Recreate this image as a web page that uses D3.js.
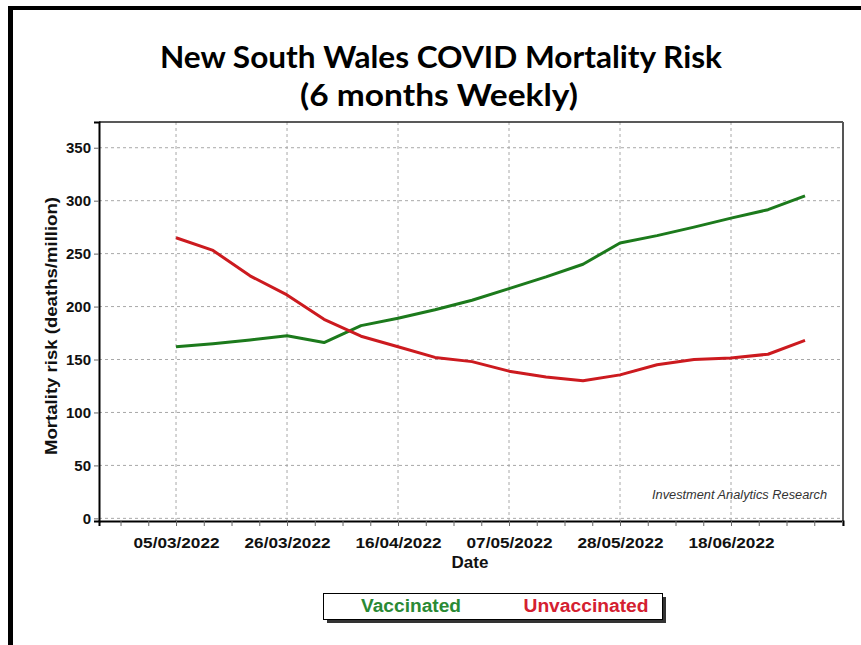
<!DOCTYPE html>
<html><head><meta charset="utf-8">
<script src="https://cdn.jsdelivr.net/npm/d3@7"></script>
<style>html,body{margin:0;padding:0;background:#fff;}svg{display:block;}</style>
</head><body>
<svg id="chart" width="861" height="645"></svg>
<script>
const weeks = ["05/03/2022","12/03/2022","19/03/2022","26/03/2022","02/04/2022","09/04/2022","16/04/2022","23/04/2022","30/04/2022","07/05/2022","14/05/2022","21/05/2022","28/05/2022","04/06/2022","11/06/2022","18/06/2022","25/06/2022","02/07/2022"];
const vaccinated = [162,165,168.5,172.5,166,182,189,197,206,217,228,240,260,267,275,283.5,291.5,304.5];
const unvaccinated = [265,253,229,211,188,172,162,152,148,139,133.5,130,135.5,145,150,151.5,155,168];
const xTickLabels = ["05/03/2022","26/03/2022","16/04/2022","07/05/2022","28/05/2022","18/06/2022","09/07/2022"];
const yTicks = [0,50,100,150,200,250,300,350];
const seriesNames = ["Vaccinated","Unvaccinated"];
const seriesColors = ["#1c7a1c","#cc1a1f"];
const legendColors = ["#2a8a34","#d42030"];

const parse = d3.utcParse("%d/%m/%Y");
const svg = d3.select("#chart");

// outer frame
svg.append("rect").attr("x",8).attr("y",6).attr("width",853).attr("height",4).attr("fill","#000");
svg.append("rect").attr("x",8).attr("y",6).attr("width",5).attr("height",639).attr("fill","#000");

const L=99, R=843, T=122, B=521;
const x = d3.scaleUtc()
  .domain([new Date(Date.UTC(2022,1,18,10,17)), new Date(Date.UTC(2022,6,9,4,30))])
  .range([L,R]);
const y = d3.scaleLinear().domain([-2.5,374.3]).range([B,T]);

// title
svg.append("text").attr("x",441).attr("y",68).attr("text-anchor","middle")
  .attr("font-family","Lato,sans-serif").attr("font-weight",700).attr("font-size",30)
  .attr("textLength",562).attr("lengthAdjust","spacingAndGlyphs").attr("fill","#000")
  .text("New South Wales COVID Mortality Risk");
svg.append("text").attr("x",439).attr("y",106).attr("text-anchor","middle")
  .attr("font-family","Lato,sans-serif").attr("font-weight",700).attr("font-size",30)
  .attr("textLength",278).attr("lengthAdjust","spacingAndGlyphs").attr("fill","#000")
  .text("(6 months Weekly)");

// grid
const grid = svg.append("g");
yTicks.forEach(v=>{
  grid.append("line").attr("x1",L).attr("x2",R).attr("y1",y(v)).attr("y2",y(v))
    .attr("stroke","#a8a8a8").attr("stroke-width",1).attr("stroke-dasharray","3,3");
});
const majorDates = xTickLabels.map(parse);
majorDates.forEach(d=>{
  if (x(d) < R-3) grid.append("line").attr("x1",x(d)).attr("x2",x(d)).attr("y1",T).attr("y2",B)
    .attr("stroke","#a8a8a8").attr("stroke-width",1).attr("stroke-dasharray","3,3");
});

// watermark
svg.append("text").attr("x",827).attr("y",499).attr("text-anchor","end")
  .attr("font-family","'Liberation Sans',Arial,sans-serif").attr("font-style","italic").attr("font-size",12.5)
  .attr("textLength",175).attr("lengthAdjust","spacingAndGlyphs")
  .attr("fill","#333").text("Investment Analytics Research");

// lines
const line = d3.line().x((d,i)=>x(parse(weeks[i]))).y(d=>y(d));
[vaccinated, unvaccinated].forEach((s,k)=>{
  svg.append("path").datum(s).attr("d",line).attr("fill","none")
    .attr("stroke",seriesColors[k]).attr("stroke-width",3).attr("stroke-linejoin","round");
});

// plot frame
svg.append("line").attr("x1",L).attr("x2",R).attr("y1",T).attr("y2",T).attr("stroke","#222").attr("stroke-width",1.5);
svg.append("line").attr("x1",R).attr("x2",R).attr("y1",T).attr("y2",B).attr("stroke","#555").attr("stroke-width",2);

// axes
const minor = [];
for (let t = +parse("05/03/2022") - 4*5.25*864e5; t <= +x.domain()[1]; t += 5.25*864e5) {
  if (t >= +x.domain()[0]) minor.push(new Date(t));
}
const xAxis = d3.axisBottom(x).tickValues(minor).tickSize(5).tickFormat("");
const gx = svg.append("g").attr("transform",`translate(0,${B})`).call(xAxis);
gx.select(".domain").attr("stroke","#000").attr("stroke-width",2);
gx.selectAll(".tick line").attr("stroke","#666");
const xLab = d3.axisBottom(x).tickValues(majorDates.filter(d=>x(d)<R-20)).tickSize(0).tickPadding(16)
  .tickFormat(d3.utcFormat("%d/%m/%Y"));
const gx2 = svg.append("g").attr("transform",`translate(0,${B})`).call(xLab);
gx2.select(".domain").remove();
gx2.selectAll("text").attr("font-family","'Liberation Sans',Arial,sans-serif").attr("font-weight","bold")
  .attr("font-size",15).attr("fill","#111").attr("textLength",86).attr("lengthAdjust","spacingAndGlyphs");

const yAxis = d3.axisLeft(y).tickValues(yTicks).tickSize(5).tickPadding(3);
const gy = svg.append("g").attr("transform",`translate(${L},0)`).call(yAxis);
gy.select(".domain").attr("stroke","#000").attr("stroke-width",2);
gy.selectAll(".tick line").attr("stroke","#666");
gy.selectAll("text").attr("font-family","'Liberation Sans',Arial,sans-serif").attr("font-weight","bold")
  .attr("font-size",15).attr("fill","#111");

// axis titles
svg.append("text").attr("x",470).attr("y",568).attr("text-anchor","middle")
  .attr("font-family","'Liberation Sans',Arial,sans-serif").attr("font-weight","bold").attr("font-size",17)
  .attr("fill","#111").text("Date");
svg.append("text").attr("transform","translate(57,326) rotate(-90)").attr("text-anchor","middle")
  .attr("font-family","'Liberation Sans',Arial,sans-serif").attr("font-weight","bold").attr("font-size",16)
  .attr("textLength",258).attr("lengthAdjust","spacingAndGlyphs")
  .attr("fill","#111").text("Mortality risk (deaths/million)");

// legend
svg.append("rect").attr("x",327).attr("y",597).attr("width",339).attr("height",26).attr("fill","#333");
svg.append("rect").attr("x",323.5).attr("y",593.5).attr("width",339).attr("height",26).attr("fill","#fff")
  .attr("stroke","#000").attr("stroke-width",1);
const legX = [411, 586];
const legW = [100, 125];
seriesNames.forEach((n,i)=>{
  svg.append("text").attr("x",legX[i]).attr("y",612).attr("text-anchor","middle")
    .attr("font-family","'Liberation Sans',Arial,sans-serif").attr("font-weight","bold").attr("font-size",18)
    .attr("textLength",legW[i]).attr("lengthAdjust","spacingAndGlyphs")
    .attr("fill",legendColors[i]).text(n);
});
</script>
</body></html>
